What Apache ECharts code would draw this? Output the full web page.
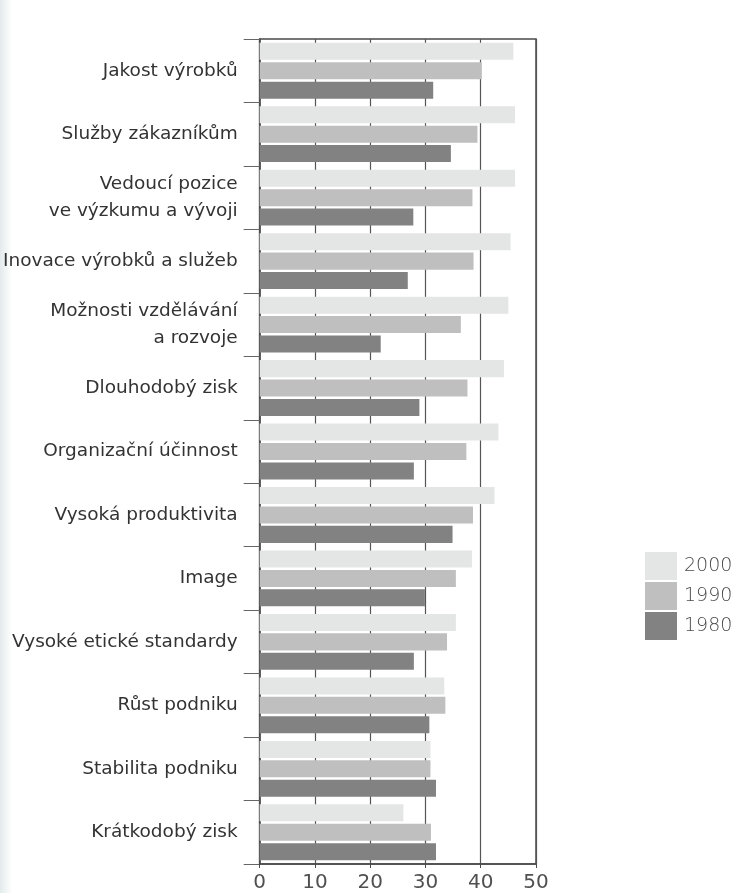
<!DOCTYPE html>
<html>
<head>
<meta charset="utf-8">
<script src="https://cdn.jsdelivr.net/npm/echarts@6/dist/echarts.min.js"></script>
<style>
  html, body { margin: 0; padding: 0; background: #fff; }
  #chart { width: 732px; height: 893px; }
</style>
</head>
<body>
<div id="chart"></div>
<script>
// Priorities of companies, listed top to bottom
const categories = [
  'Jakost výrobků',
  'Služby zákazníkům',
  'Vedoucí pozice\nve výzkumu a vývoji',
  'Inovace výrobků a služeb',
  'Možnosti vzdělávání\na rozvoje',
  'Dlouhodobý zisk',
  'Organizační účinnost',
  'Vysoká produktivita',
  'Image',
  'Vysoké etické standardy',
  'Růst podniku',
  'Stabilita podniku',
  'Krátkodobý zisk'
];
const seriesNames = ['2000', '1990', '1980'];
const values2000 = [45.9, 46.2, 46.2, 45.4, 45.0, 44.2, 43.2, 42.5, 38.4, 35.5, 33.4, 30.9, 26.0];
const values1990 = [40.2, 39.4, 38.5, 38.7, 36.4, 37.6, 37.4, 38.6, 35.5, 33.9, 33.6, 30.9, 31.0];
const values1980 = [31.4, 34.6, 27.8, 26.8, 21.9, 28.9, 27.9, 34.9, 29.9, 27.9, 30.7, 31.9, 31.9];
const xTicks = [0, 10, 20, 30, 40, 50];

const colors = ['#e4e5e5', '#bfbfbf', '#828282'];
const fontFamily = '"DejaVu Sans", "Noto Sans", sans-serif';

const chart = echarts.init(document.getElementById('chart'), null, { renderer: 'canvas' });

const seriesData = [values2000, values1990, values1980];

chart.setOption({
  animation: false,
  backgroundColor: '#ffffff',
  graphic: [{
    type: 'rect',
    left: 0, top: 0,
    shape: { width: 12, height: 893 },
    style: {
      fill: new echarts.graphic.LinearGradient(0, 0, 1, 0, [
        { offset: 0, color: '#e3eaec' },
        { offset: 1, color: '#ffffff' }
      ])
    },
    silent: true,
    z: -10
  }],
  grid: {
    left: 258,
    right: 196,
    top: 39,
    bottom: 28,
    show: true,
    borderColor: '#4a4a4a',
    borderWidth: 1.5,
    backgroundColor: 'transparent'
  },
  legend: {
    orient: 'vertical',
    left: 640,
    top: 547,
    itemWidth: 32,
    itemHeight: 28,
    itemGap: 2,
    icon: 'rect',
    data: seriesNames,
    textStyle: {
      fontFamily: fontFamily,
      fontSize: 19,
      fontWeight: 200,
      color: '#4a4a4a',
      padding: [0, 0, 0, 2]
    }
  },
  xAxis: {
    type: 'value',
    min: xTicks[0],
    max: xTicks[xTicks.length - 1],
    interval: 10,
    axisLine: { show: true, lineStyle: { color: '#4a4a4a', width: 1.5 } },
    axisTick: { show: true, length: 4, lineStyle: { color: '#4a4a4a' } },
    axisLabel: {
      margin: 9,
      fontFamily: fontFamily,
      fontSize: 20,
      color: '#505050',
      formatter: v => xTicks.includes(v) ? String(v) : ''
    },
    splitLine: { show: true, lineStyle: { color: '#555', width: 1.2 } }
  },
  yAxis: {
    type: 'category',
    data: categories,
    inverse: true,
    axisLine: { show: true, lineStyle: { color: '#4a4a4a', width: 1.5 } },
    axisTick: { show: true, length: 16, lineStyle: { color: '#666', width: 1 } },
    axisLabel: {
      margin: 22,
      fontFamily: fontFamily,
      fontSize: 18.5,
      color: '#333',
      lineHeight: 27,
      align: 'right'
    }
  },
  series: seriesNames.map((name, i) => ({
    name: name,
    type: 'bar',
    data: seriesData[i],
    barGap: '14%',
    barCategoryGap: '12%',
    itemStyle: { color: colors[i] }
  }))
});
</script>
</body>
</html>
